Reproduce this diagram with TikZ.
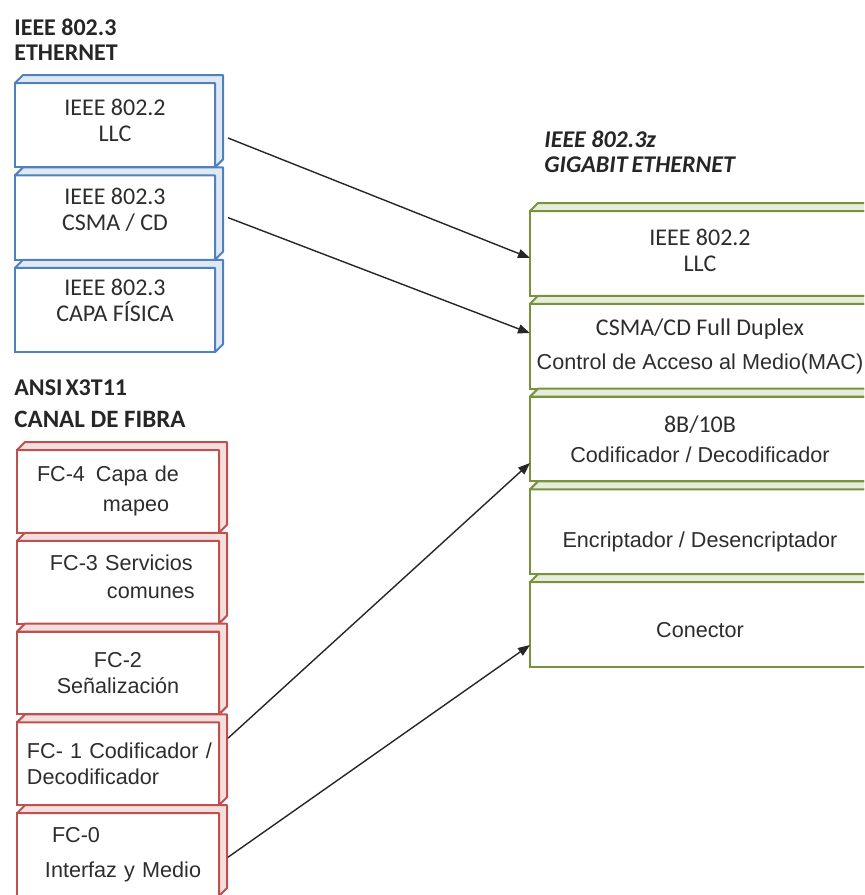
\documentclass[tikz,border=0pt]{standalone}
\usepackage{fontspec}
\setmainfont{Carlito}
\newfontfamily\arial{Liberation Sans}
\usetikzlibrary{positioning, arrows.meta}

\definecolor{azulcapa}{RGB}{79,129,189}
\definecolor{rojocapa}{RGB}{192,80,77}
\definecolor{verdecapa}{RGB}{119,147,60}
\definecolor{texto}{RGB}{45,45,45}

\newcommand{\letraarial}{\arial\fontsize{10.8}{13}\selectfont}
% sube o baja una linea sin cambiar su caja
\newcommand{\mover}[2]{\raisebox{#1}[\height][\depth]{#2}}

\tikzset{
  capa/.style={draw=#1, line width=1pt, fill=white, inner sep=0pt, outer sep=0pt, text=texto, align=center},
  azul/.style={capa=azulcapa, minimum width=100pt, minimum height=42.2pt, font=\fontsize{12}{13}\selectfont},
  roja/.style={capa=rojocapa, minimum width=101pt, text width=101pt, align=left, minimum height=41.4pt, font=\letraarial},
  verde/.style={capa=verdecapa, minimum width=170pt, minimum height=42.4pt, font=\fontsize{12}{13}\selectfont},
  titulo/.style={anchor=west, align=left, inner sep=0pt, text=black!85, font=\bfseries\fontsize{12}{12.5}\selectfont},
  flecha/.style={-{Triangle[length=6pt,width=4.5pt]}, line width=0.7pt, draw=black!85},
}

\begin{document}
\begin{tikzpicture}[x=0.5pt, y=-0.5pt, node distance=4pt]
  \useasboundingbox (0,0) rectangle (864,895);
  \clip (0,0) rectangle (864,895);

  % ethernet
  \node[titulo] (tit1) at (14,40) {IEEE 802.3\\ETHERNET};
  \node[azul, anchor=north west] (e1) at (15,83) {\mover{2.5pt}{IEEE 802.2}\\\mover{2.5pt}{LLC}};
  \node[azul, below=of e1] (e2) {\mover{3.75pt}{IEEE 802.3}\\\mover{3.75pt}{CSMA / CD}};
  \node[azul, below=of e2] (e3) {\mover{5pt}{IEEE 802.3}\\\mover{5pt}{CAPA FÍSICA}};

  % canal de fibra
  \node[titulo] (tit2) at (14,404) {ANSI\hspace{1.5pt}X3T11\\[3.5pt]{\fontsize{12.5}{13}\selectfont CANAL DE FIBRA}};
  \node[roja, anchor=north west] (f4) at (17,450) {\hspace*{10pt}FC-4\hspace{5.5pt}Capa de\\[2pt]\hspace*{43pt}mapeo};
  \node[roja, below=of f4] (f3) {\hspace*{16.5pt}\mover{2.5pt}{FC-3 Servicios}\\[1pt]\hspace*{45pt}\mover{2.5pt}{comunes}};
  \node[roja, below=of f3, align=center] (f2) {FC-2\\Señalización};
  \node[roja, below=of f2] (f1) {\hspace*{5pt}FC- 1 Codificador /\\\hspace*{5pt}Decodificador};
  \node[roja, below=of f1] (f0) {\hspace*{17.5pt}FC-0\\[4.5pt]\hspace*{14pt}Interfaz y Medio};

  % gigabit ethernet
  \node[titulo, font=\bfseries\itshape\fontsize{12}{12.5}\selectfont] (tit3) at (544,152) {IEEE 802.3z\\GIGABIT\hspace{2pt}ETHERNET};
  \node[verde, anchor=north west] (g1) at (530,211) {\mover{1.5pt}{IEEE 802.2}\\\mover{1.5pt}{LLC}};
  \node[verde, below=of g1] (g2) {CSMA/CD Full Duplex\\[4pt]{\letraarial Control de Acceso al Medio(MAC)}};
  \node[verde, below=of g2] (g3) {8B/10B\\[2pt]{\letraarial Codificador / Decodificador}};
  \node[verde, below=of g3, font=\letraarial] (g4) {\mover{-5pt}{Encriptador / Desencriptador}};
  \node[verde, below=of g4, font=\letraarial] (g5) {\mover{-2.5pt}{Conector}};

  % caras del cubo
  \foreach \n/\c in {e1/azulcapa, e2/azulcapa, e3/azulcapa,
                     f4/rojocapa, f3/rojocapa, f2/rojocapa, f1/rojocapa, f0/rojocapa,
                     g1/verdecapa, g2/verdecapa, g3/verdecapa, g4/verdecapa, g5/verdecapa}
    \filldraw[draw=\c, fill=\c!18, line width=1pt, line join=round]
      (\n.north west) -- ++(4pt,4pt) -- ([shift={(4pt,4pt)}]\n.north east)
      -- ([shift={(4pt,4pt)}]\n.south east) -- (\n.south east) -- (\n.north east) -- cycle;

  \draw[flecha] ([shift={(6.5pt,-6.4pt)}]e1.east) -- ([yshift=-2.3pt]g1.west);
  \draw[flecha] ([xshift=6.5pt]e2.east) -- ([yshift=6.5pt]g2.west);
  \draw[flecha] ([shift={(4.5pt,12.8pt)}]f1.east) -- ([yshift=-12pt]g3.west);
  \draw[flecha] ([shift={(4.5pt,-1.3pt)}]f0.east) -- ([yshift=-10.2pt]g5.west);
\end{tikzpicture}
\end{document}
